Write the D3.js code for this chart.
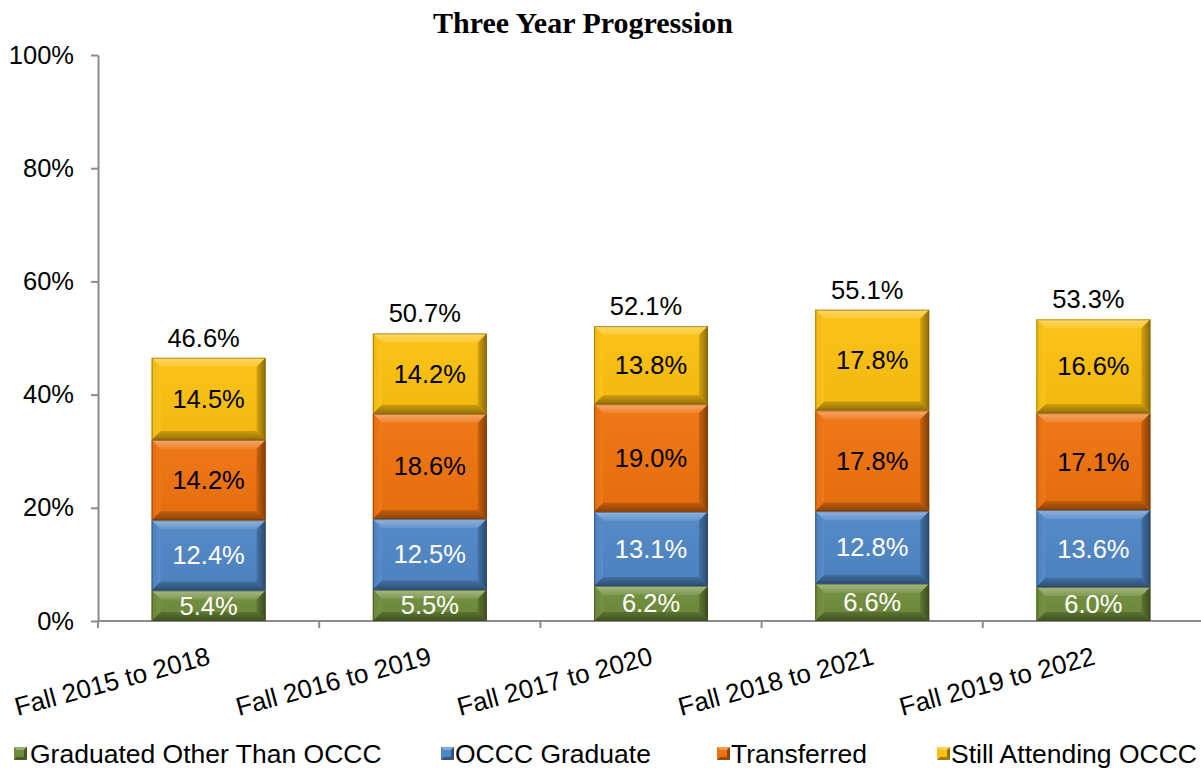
<!DOCTYPE html>
<html>
<head>
<meta charset="utf-8">
<script src="https://cdn.jsdelivr.net/npm/d3@7"></script>
<style>
  body { margin: 0; background: #fff; }
  svg { display: block; }
</style>
</head>
<body>
<svg id="chart" width="1201" height="769"></svg>
<script>
const categories = ["Fall 2015 to 2018", "Fall 2016 to 2019", "Fall 2017 to 2020", "Fall 2018 to 2021", "Fall 2019 to 2022"];
const seriesNames = ["Graduated Other Than OCCC", "OCCC Graduate", "Transferred", "Still Attending OCCC"];
const graduatedOther = [5.4, 5.5, 6.2, 6.6, 6.0];
const occcGraduate = [12.4, 12.5, 13.1, 12.8, 13.6];
const transferred = [14.2, 18.6, 19.0, 17.8, 17.1];
const stillAttending = [14.5, 14.2, 13.8, 17.8, 16.6];
const totals = [46.6, 50.7, 52.1, 55.1, 53.3];
const yTicks = [0, 20, 40, 60, 80, 100];

const colors = ["#6f8c3a", "#4f86c6", "#ee720e", "#fbc00f"];
const labelColors = ["#ffffff", "#ffffff", "#000000", "#000000"];
const FONT = "Liberation Sans, Arial, sans-serif";
const FS = 25.5;

const svg = d3.select("#chart");
const plotBottom = 621, plotTop = 55;

const x = d3.scaleBand().domain(categories).range([98, 1204]).paddingInner(0.485).paddingOuter(0.2425);
const y = d3.scaleLinear().domain([0, 100]).range([plotBottom, plotTop]);

const rows = categories.map((c, i) => ({
  cat: c,
  s0: graduatedOther[i], s1: occcGraduate[i], s2: transferred[i], s3: stillAttending[i]
}));
const stack = d3.stack().keys(["s0", "s1", "s2", "s3"])(rows);

function shade(col, k) {
  return k > 0 ? d3.interpolateRgb(col, "#fff")(k) : d3.interpolateRgb(col, "#000")(-k);
}

// gradients
const defs = svg.append("defs");
colors.forEach((col, i) => {
  const mk = (id, x1, y1, x2, y2, k1, k2) => {
    const g = defs.append("linearGradient").attr("id", id)
      .attr("x1", x1).attr("y1", y1).attr("x2", x2).attr("y2", y2);
    g.append("stop").attr("offset", "0%").attr("stop-color", shade(col, k1));
    g.append("stop").attr("offset", "100%").attr("stop-color", shade(col, k2));
  };
  mk("top" + i, 0, 0, 0, 1, 0.38, 0.12);
  mk("bot" + i, 0, 0, 0, 1, -0.18, -0.42);
  mk("rgt" + i, 0, 0, 1, 0, -0.15, -0.45);
  mk("lft" + i, 0, 0, 1, 0, -0.05, 0.06);
  mk("face" + i, 0, 0, 0, 1, 0.04, -0.04);
});

// Title
svg.append("text")
  .attr("x", 583).attr("y", 33)
  .attr("text-anchor", "middle")
  .attr("font-family", "Liberation Serif, Times New Roman, serif")
  .attr("font-weight", "bold").attr("font-size", 30)
  .text("Three Year Progression");

// Axes
const axisColor = "#8c8c8c";
const yAxis = svg.append("g").attr("transform", "translate(98,0)")
  .call(d3.axisLeft(y).tickValues(yTicks).tickFormat(d => d + "%").tickSize(7).tickSizeOuter(0));
yAxis.select(".domain").attr("stroke", axisColor).attr("stroke-width", 2);
yAxis.selectAll(".tick line").attr("stroke", axisColor).attr("stroke-width", 2);
yAxis.selectAll(".tick text")
  .attr("font-family", FONT).attr("font-size", FS)
  .attr("fill", "#000").attr("x", -24);

const xAxisG = svg.append("g");
xAxisG.append("line").attr("x1", 98).attr("x2", 1201).attr("y1", plotBottom).attr("y2", plotBottom)
  .attr("stroke", axisColor).attr("stroke-width", 2);
const boundaries = categories.map(c => x(c) - x.step() * x.paddingInner() / 2);
boundaries.push(x(categories[categories.length - 1]) + x.bandwidth() + x.step() * x.paddingInner() / 2);
boundaries.forEach(b => {
  xAxisG.append("line").attr("x1", b).attr("x2", b).attr("y1", plotBottom).attr("y2", plotBottom + 7)
    .attr("stroke", axisColor).attr("stroke-width", 2);
});
categories.forEach(c => {
  const cx = x(c) + x.bandwidth() / 2;
  svg.append("text")
    .attr("transform", `translate(${cx + 3},664) rotate(-15)`)
    .attr("text-anchor", "end")
    .attr("font-family", FONT).attr("font-size", 26)
    .text(c);
});

// Bevelled bars
const poly = pts => pts.map(p => p.join(",")).join(" ");
const barsG = svg.append("g");
stack.forEach((layer, si) => {
  layer.forEach((d, i) => {
    const x0 = x(categories[i]), w = x.bandwidth();
    const yTop = y(d[1]), yBot = y(d[0]);
    const h = yBot - yTop;
    const b = Math.min(9, h / 2 - 2);
    const g = barsG.append("g");
    g.append("rect").attr("x", x0).attr("y", yTop).attr("width", w).attr("height", h).attr("fill", `url(#face${si})`);
    g.append("polygon").attr("points", poly([[x0, yTop], [x0 + w, yTop], [x0 + w - b, yTop + b], [x0 + b, yTop + b]]))
      .attr("fill", `url(#top${si})`);
    g.append("polygon").attr("points", poly([[x0, yTop], [x0 + b, yTop + b], [x0 + b, yBot - b], [x0, yBot]]))
      .attr("fill", `url(#lft${si})`);
    g.append("polygon").attr("points", poly([[x0 + w, yTop], [x0 + w - b, yTop + b], [x0 + w - b, yBot - b], [x0 + w, yBot]]))
      .attr("fill", `url(#rgt${si})`);
    g.append("polygon").attr("points", poly([[x0, yBot], [x0 + w, yBot], [x0 + w - b, yBot - b], [x0 + b, yBot - b]]))
      .attr("fill", `url(#bot${si})`);
    g.append("rect").attr("x", x0 + 0.5).attr("y", yTop + 0.5).attr("width", w - 1).attr("height", h - 1)
      .attr("fill", "none").attr("stroke", shade(colors[si], -0.5)).attr("stroke-opacity", 0.6).attr("stroke-width", 1);
    const v = [graduatedOther, occcGraduate, transferred, stillAttending][si][i];
    g.append("text")
      .attr("x", x0 + w / 2).attr("y", (yTop + yBot) / 2 + 9)
      .attr("text-anchor", "middle")
      .attr("font-family", FONT).attr("font-size", FS)
      .attr("fill", labelColors[si])
      .text(v.toFixed(1) + "%");
  });
});

// Totals
categories.forEach((c, i) => {
  const top = stack[3][i][1];
  svg.append("text")
    .attr("x", x(c) + x.bandwidth() / 2 - 5).attr("y", y(top) - 11)
    .attr("text-anchor", "middle")
    .attr("font-family", FONT).attr("font-size", FS)
    .text(totals[i].toFixed(1) + "%");
});

// Legend
const legendMarkX = [14, 441, 717, 937];
const legendTextX = [30, 455, 731, 951];
const legend = svg.append("g");
seriesNames.forEach((n, i) => {
  const x0 = legendMarkX[i], s = 13, y0 = 747;
  const gg = legend.append("g");
  gg.append("rect").attr("x", x0).attr("y", y0).attr("width", s).attr("height", s).attr("fill", colors[i]);
  const b = 3;
  gg.append("polygon").attr("points", poly([[x0, y0], [x0 + s, y0], [x0 + s - b, y0 + b], [x0 + b, y0 + b]])).attr("fill", shade(colors[i], 0.3));
  gg.append("polygon").attr("points", poly([[x0 + s, y0], [x0 + s - b, y0 + b], [x0 + s - b, y0 + s - b], [x0 + s, y0 + s]])).attr("fill", shade(colors[i], -0.4));
  gg.append("polygon").attr("points", poly([[x0, y0 + s], [x0 + s, y0 + s], [x0 + s - b, y0 + s - b], [x0 + b, y0 + s - b]])).attr("fill", shade(colors[i], -0.35));
  gg.append("text").attr("x", legendTextX[i]).attr("y", 763)
    .attr("font-family", FONT).attr("font-size", 26.5)
    .text(n);
});
</script>
</body>
</html>
